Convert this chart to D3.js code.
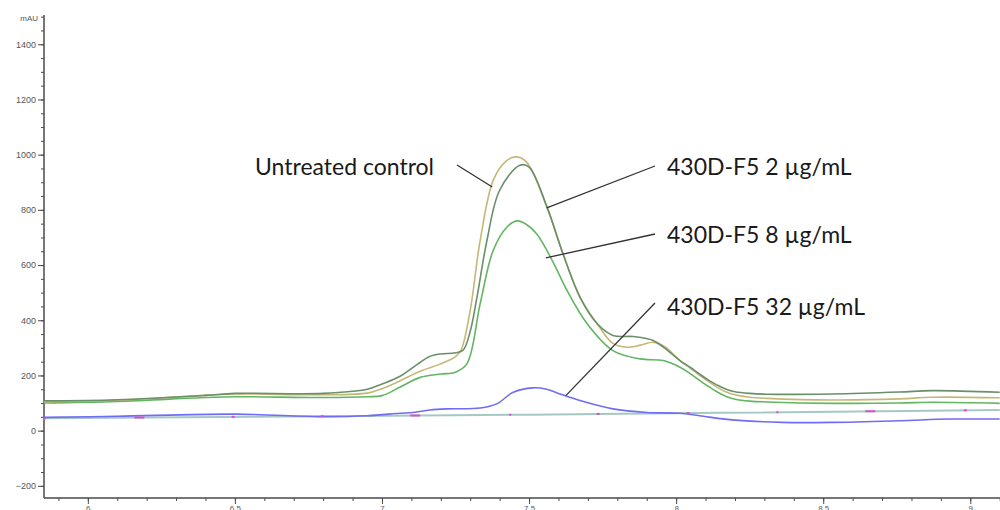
<!DOCTYPE html>
<html>
<head>
<meta charset="utf-8">
<script src="https://cdn.jsdelivr.net/npm/d3@7"></script>
<style>
  html, body { margin: 0; padding: 0; background: #fff; overflow: hidden; }
  svg { display: block; }
</style>
</head>
<body>
<svg id="chart" width="1000" height="510"></svg>
<script>
// Retention time (min) and absorbance (mAU) for each trace
const controlTimes  = [5.85, 6.1, 6.4, 6.5, 6.8, 6.95, 7.0, 7.06, 7.13, 7.2, 7.25, 7.27, 7.3, 7.334, 7.378, 7.42, 7.453, 7.49, 7.561, 7.615, 7.673, 7.731, 7.785, 7.833, 7.88, 7.922, 7.96, 8.013, 8.05, 8.08, 8.11, 8.14, 8.17, 8.2, 8.25, 8.31, 8.53, 8.76, 8.87, 9.1];
const controlValues = [104, 110, 128, 133, 130, 136, 152, 180, 215, 242, 268, 295, 436, 690, 907, 975, 992, 975, 810, 642, 484, 388, 316, 302, 310, 320, 305, 254, 225, 200, 178, 157, 140, 130, 121, 117, 111, 115, 121, 119];

const dose2Times  = [5.85, 6.1, 6.4, 6.5, 6.8, 6.95, 7.0, 7.06, 7.12, 7.16, 7.2, 7.25, 7.276, 7.3, 7.323, 7.357, 7.4, 7.469, 7.5, 7.561, 7.615, 7.673, 7.731, 7.785, 7.854, 7.922, 7.96, 8.013, 8.05, 8.08, 8.11, 8.14, 8.17, 8.2, 8.25, 8.31, 8.53, 8.76, 8.87, 9.1];
const dose2Values = [108, 112, 128, 135, 135, 150, 169, 196, 240, 268, 278, 282, 292, 360, 484, 690, 871, 962, 955, 810, 642, 484, 388, 345, 341, 327, 300, 254, 228, 205, 183, 165, 150, 141, 135, 132, 133, 140, 145, 139];

const dose8Times  = [5.85, 6.1, 6.4, 6.5, 6.8, 6.95, 7.0, 7.06, 7.13, 7.2, 7.25, 7.289, 7.334, 7.378, 7.425, 7.459, 7.49, 7.527, 7.582, 7.629, 7.697, 7.785, 7.877, 7.956, 8.013, 8.05, 8.08, 8.11, 8.14, 8.17, 8.2, 8.25, 8.31, 8.53, 8.76, 8.87, 9.1];
const dose8Values = [100, 106, 120, 123, 120, 123, 127, 157, 193, 205, 212, 243, 461, 653, 738, 760, 748, 712, 610, 508, 388, 290, 260, 254, 230, 205, 182, 160, 140, 124, 114, 107, 104, 99, 100, 103, 99];

const dose32Times  = [5.85, 6.1, 6.5, 6.79, 6.95, 7.06, 7.106, 7.163, 7.221, 7.334, 7.39, 7.446, 7.513, 7.56, 7.605, 7.673, 7.785, 7.901, 8.013, 8.08, 8.19, 8.36, 8.53, 8.76, 8.93, 9.1];
const dose32Values = [48, 52, 60, 51, 54, 63, 66, 75, 79, 82, 97, 139, 155, 150, 133, 109, 79, 66, 63, 54, 39, 30, 30, 36, 42, 42];

const baselineTimes  = [5.85, 7.5, 9.1];
const baselineValues = [45, 58, 75];

// Integration event marks along the baseline
const markTimes  = [5.855, 6.175, 6.494, 6.797, 7.113, 7.436, 7.735, 8.041, 8.344, 8.66, 8.983];
const markWidths = [2, 10, 3, 3, 10, 2, 3, 3, 2, 10, 3];

// Axis ticks
const yMajorTicks = [-200, 0, 200, 400, 600, 800, 1000, 1200, 1400];
const xMajorTicks = [6, 6.5, 7, 7.5, 8, 8.5, 9];
const xTickLabels = ["6", "6.5", "7", "7.5", "8", "8.5", "9"];

// Trace labels with anchor point on the curve (time, mAU)
const labelTexts   = ["Untreated control", "430D-F5 2 \u00b5g/mL", "430D-F5 8 \u00b5g/mL", "430D-F5 32 \u00b5g/mL"];
const labelAnchorT = [7.375, 7.56, 7.557, 7.625];
const labelAnchorV = [883, 807, 626, 127];

const svg = d3.select("#chart");
const plotLeft = 44, plotRight = 1000, plotTop = 15, plotBottom = 498;

const x = d3.scaleLinear().domain([5.851, 9.101]).range([plotLeft, plotRight]);
const y = d3.scaleLinear().domain([-244, 1506]).range([plotBottom, plotTop]);

// Axes
const axisColor = "#4a4a4a";
const tickFont = "Liberation Sans, Arial, sans-serif";

const gy = svg.append("g").attr("transform", `translate(${plotLeft},0)`);
gy.call(d3.axisLeft(y).tickValues(d3.range(-200, 1501, 50)).tickSize(3).tickFormat(""));
gy.selectAll(".tick line").attr("stroke", axisColor);
const gyMajor = svg.append("g").attr("transform", `translate(${plotLeft},0)`);
gyMajor.call(d3.axisLeft(y).tickValues(yMajorTicks).tickSize(6).tickPadding(2).tickFormat(d3.format("d")));
gyMajor.selectAll(".tick line").attr("stroke", axisColor);
gyMajor.selectAll(".tick text").attr("fill", "#555").attr("font-family", tickFont).attr("font-size", 9);

const gx = svg.append("g").attr("transform", `translate(0,${plotBottom})`);
gx.call(d3.axisBottom(x).tickValues(d3.range(59, 92).map(v => v / 10)).tickSize(3).tickFormat(""));
gx.selectAll(".tick line").attr("stroke", axisColor);
const gxMajor = svg.append("g").attr("transform", `translate(0,${plotBottom})`);
gxMajor.call(d3.axisBottom(x).tickValues(xMajorTicks).tickSize(6).tickPadding(1)
  .tickFormat((d, i) => xTickLabels[i]));
gxMajor.selectAll(".tick line").attr("stroke", axisColor);
gxMajor.selectAll(".tick text").attr("fill", "#555").attr("font-family", tickFont).attr("font-size", 8);

svg.selectAll(".domain").remove();
svg.append("line").attr("x1", plotLeft).attr("x2", plotLeft).attr("y1", plotTop).attr("y2", plotBottom)
  .attr("stroke", axisColor).attr("stroke-width", 1.5);
svg.append("line").attr("x1", plotLeft).attr("x2", plotRight).attr("y1", plotBottom).attr("y2", plotBottom)
  .attr("stroke", axisColor).attr("stroke-width", 1.5);
svg.append("text").attr("x", 38).attr("y", 21).attr("text-anchor", "end")
  .attr("font-family", tickFont).attr("font-size", 8).attr("fill", "#555").text("mAU");

// Traces
const line = d3.line().x(d => x(d[0])).y(d => y(d[1])).curve(d3.curveCatmullRom.alpha(0.5));
const zip = (t, v) => t.map((tt, i) => [tt, v[i]]);

const traces = [
  { t: baselineTimes, v: baselineValues, color: "#a6c8c4", w: 2 },
  { t: dose32Times,   v: dose32Values,   color: "#6f6cf5", w: 1.6 },
  { t: dose8Times,    v: dose8Values,    color: "#62b562", w: 1.6 },
  { t: controlTimes,  v: controlValues,  color: "#c4b878", w: 1.6 },
  { t: dose2Times,    v: dose2Values,    color: "#6a8f6a", w: 1.6 }
];
svg.append("g").selectAll("path").data(traces).join("path")
  .attr("d", d => line(zip(d.t, d.v)))
  .attr("fill", "none")
  .attr("stroke", d => d.color)
  .attr("stroke-width", d => d.w)
  .attr("stroke-linejoin", "round");

// Baseline event marks
const baseAt = d3.scaleLinear().domain(baselineTimes).range(baselineValues);
svg.append("g").selectAll("line").data(markTimes).join("line")
  .attr("x1", (d, i) => x(d) - markWidths[i] / 2)
  .attr("x2", (d, i) => x(d) + markWidths[i] / 2)
  .attr("y1", d => y(baseAt(d)))
  .attr("y2", d => y(baseAt(d)))
  .attr("stroke", "#d94fd0")
  .attr("stroke-width", 2);

// Trace labels and leader lines
const labelX = [255, 667, 667, 667];
const labelY = [175, 175, 243, 315];
const leaderStart = [[457, 165], [655, 166], [655, 234], [655, 303]];
const lg = svg.append("g");
labelTexts.forEach((txt, i) => {
  lg.append("line")
    .attr("x1", leaderStart[i][0]).attr("y1", leaderStart[i][1])
    .attr("x2", x(labelAnchorT[i])).attr("y2", y(labelAnchorV[i]))
    .attr("stroke", "#333").attr("stroke-width", 1.3);
  lg.append("text")
    .attr("x", labelX[i]).attr("y", labelY[i])
    .attr("font-family", "Lato, 'Open Sans', sans-serif")
    .attr("font-size", 23)
    .attr("fill", "#1a1a1a")
    .text(txt);
});
</script>
</body>
</html>
